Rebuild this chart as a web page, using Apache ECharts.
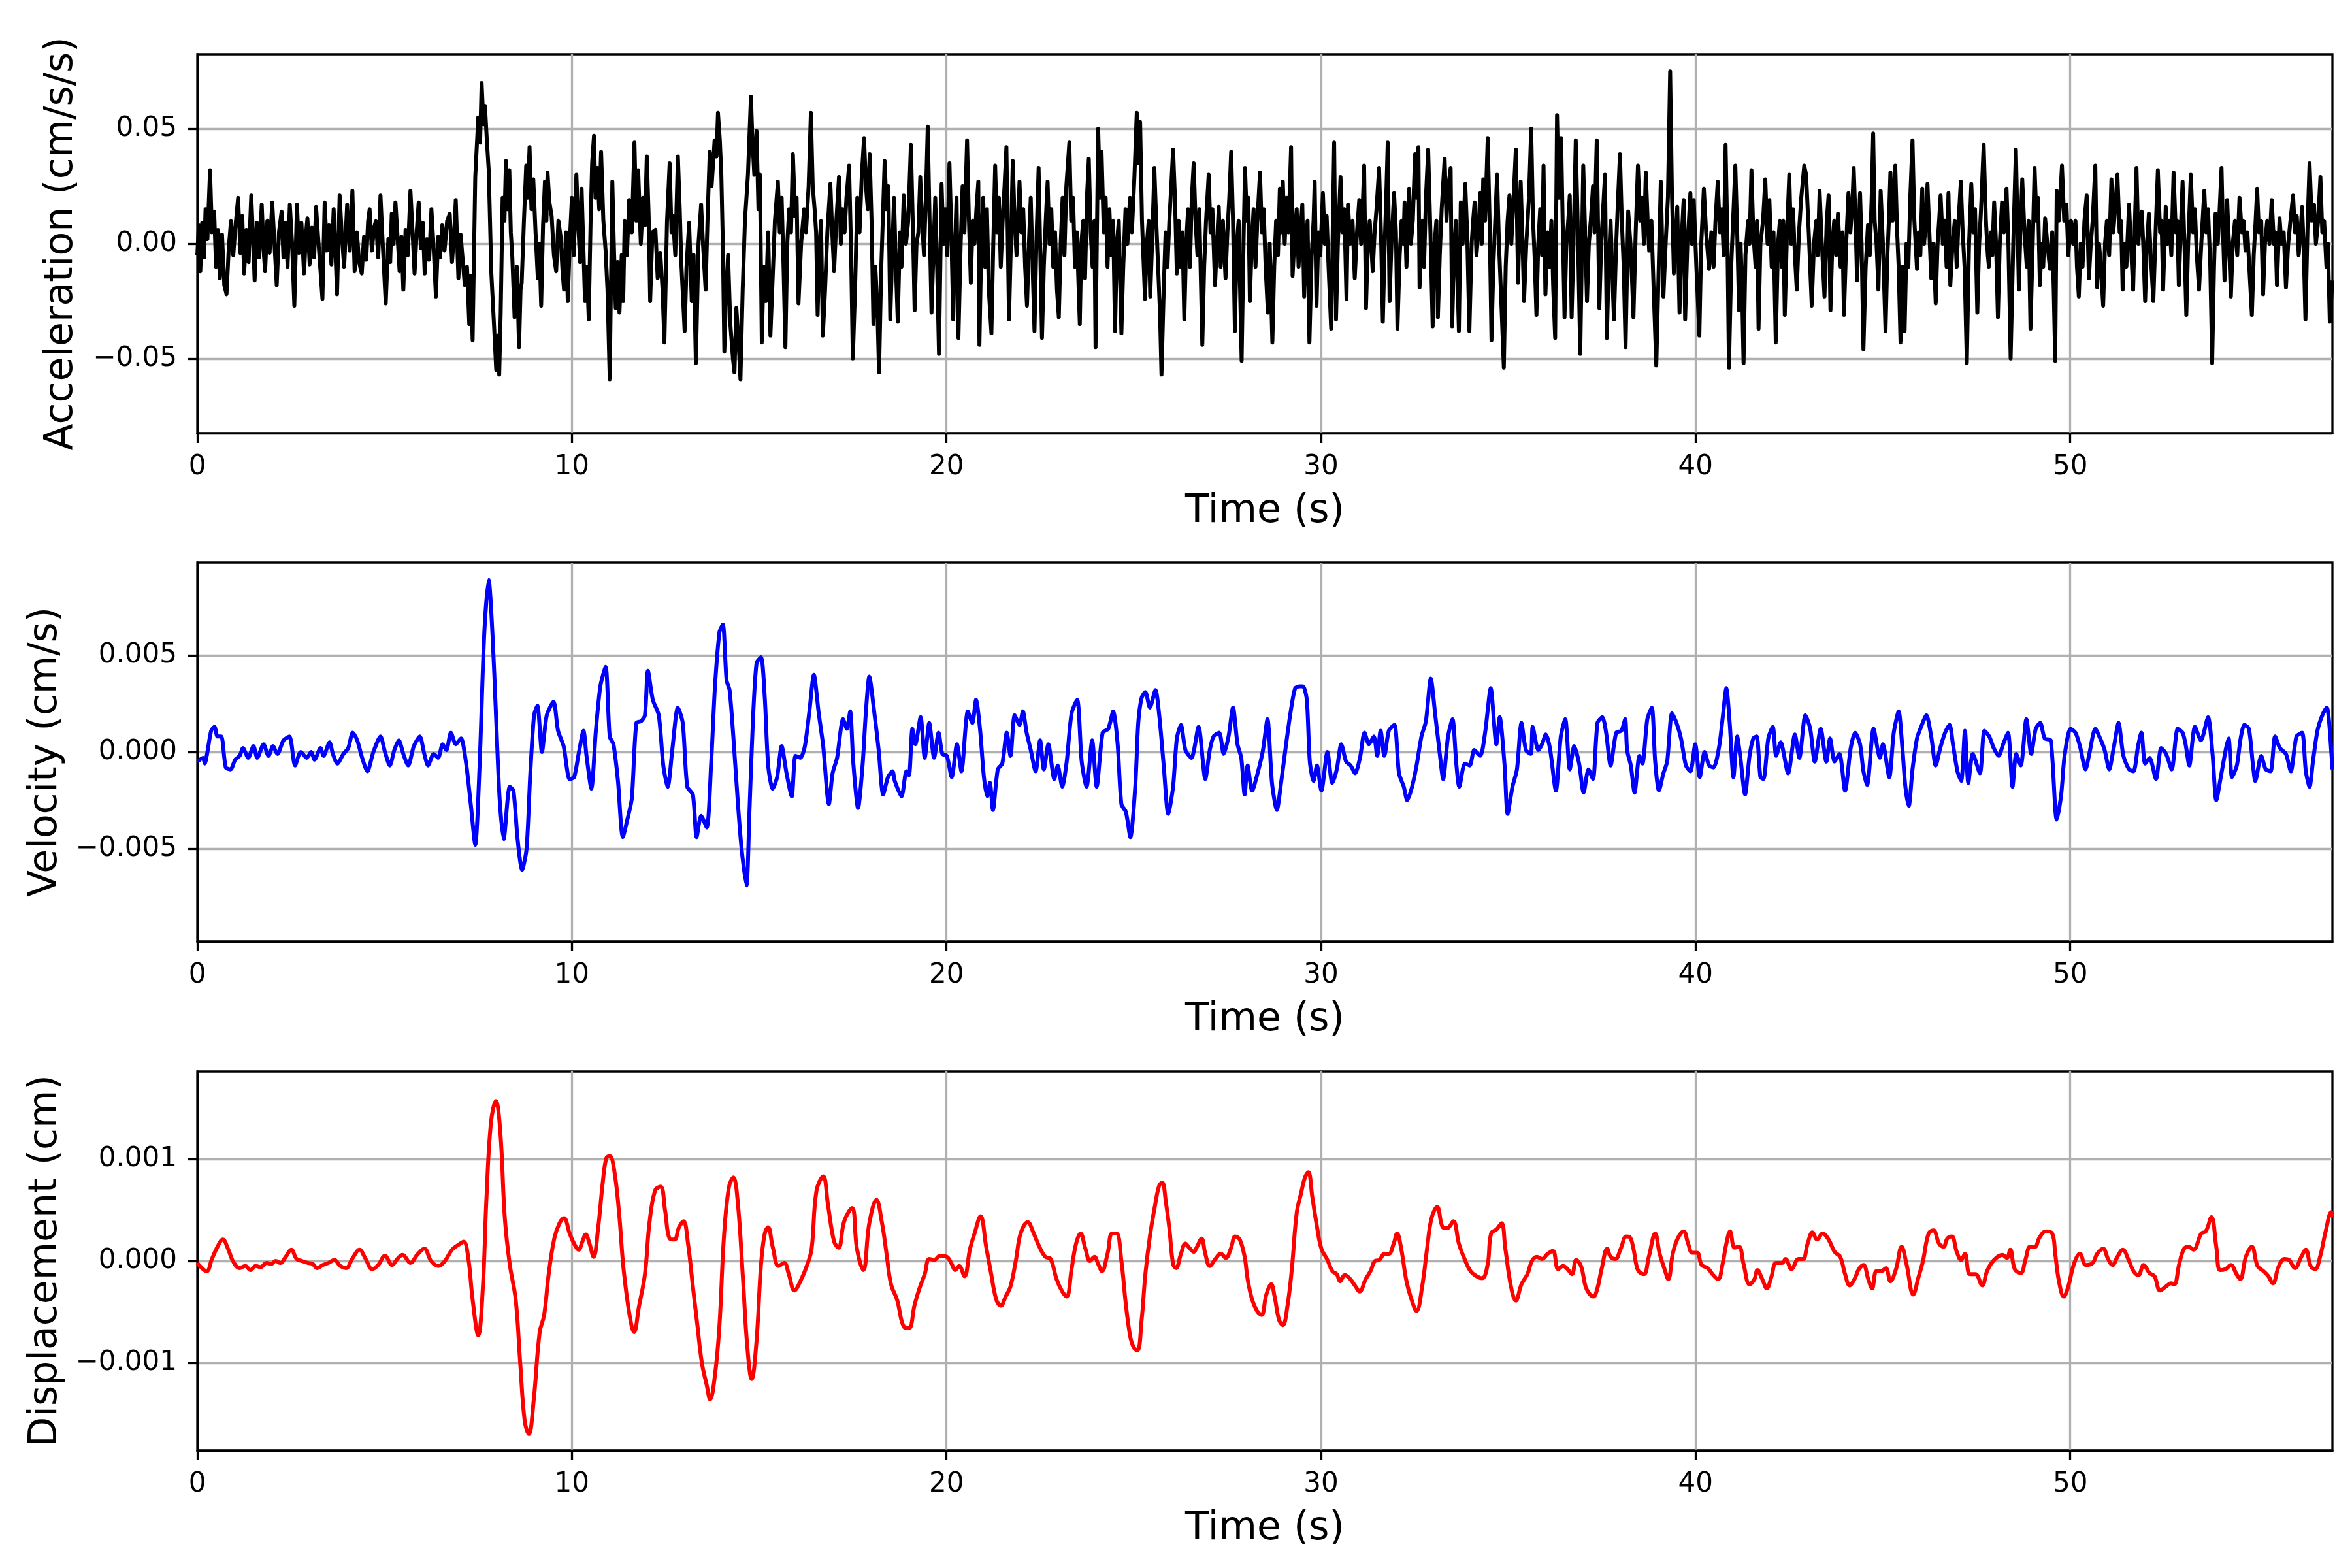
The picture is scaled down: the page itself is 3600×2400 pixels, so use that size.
<!DOCTYPE html>
<html>
<head>
<meta charset="utf-8">
<script src="https://cdn.jsdelivr.net/npm/echarts@6.0.0/dist/echarts.min.js"></script>
<style>
  html, body { margin: 0; padding: 0; background: #fff; }
  #canvas { width: 3600px; height: 2400px; }
</style>
</head>
<body>
<div id="canvas"></div>
<script>
// time axis (s)
const timeMax = 57;
const timeTicks = [0, 10, 20, 30, 40, 50];

// acceleration samples [time s, value in 1e-3 cm/s/s]
const accUnit = 1e-3;
const accLimit = 0.0825;
const accTicks = [-0.05, 0, 0.05];
const accSamples = [
[0.00,-5],[0.04,8],[0.08,-12],[0.13,9],[0.18,-6],[0.22,15],[0.27,2],[0.34,32],[0.39,5],[0.45,14],[0.5,-10],[0.55,6],[0.6,-15],[0.66,4],[0.72,-18],[0.78,-22],[0.84,-2],[0.9,10],[0.96,-5],
[1.02,8],[1.09,20],[1.15,-4],[1.2,12],[1.25,-13],[1.31,6],[1.37,-8],[1.44,21],[1.49,2],[1.53,-16],[1.59,9],[1.65,-6],[1.72,17],[1.77,-3],[1.81,-12],[1.87,10],[1.93,-4],
[2.0,18],[2.06,0],[2.12,-18],[2.18,5],[2.25,14],[2.3,-6],[2.36,9],[2.41,-10],[2.47,17],[2.53,0],[2.59,-27],[2.66,17],[2.72,-4],[2.78,9],[2.85,-13],[2.9,4],[2.94,11],
[3.0,-9],[3.06,7],[3.12,-6],[3.17,16],[3.22,4],[3.28,-10],[3.34,-24],[3.4,18],[3.46,-3],[3.52,8],[3.58,-9],[3.64,15],[3.69,-4],[3.73,-22],[3.8,21],[3.86,3],[3.92,-10],
[4.0,17],[4.07,-3],[4.14,23],[4.2,-12],[4.26,5],[4.32,-8],[4.39,-13],[4.45,3],[4.51,-7],[4.56,10],[4.6,15],[4.66,-3],[4.72,7],[4.77,10],[4.83,-6],[4.89,21],[4.95,0],
[5.03,-26],[5.1,2],[5.15,-8],[5.19,13],[5.24,0],[5.29,18],[5.35,2],[5.4,-12],[5.45,3],[5.5,-20],[5.56,6],[5.62,-5],[5.69,23],[5.75,4],[5.8,-13],[5.86,6],[5.91,18],[5.97,-2],
[6.02,9],[6.07,-13],[6.13,2],[6.19,-7],[6.25,15],[6.31,-2],[6.37,-23],[6.43,3],[6.48,-6],[6.54,8],[6.6,-3],[6.67,10],[6.74,13],[6.8,-8],[6.86,5],[6.9,19],[6.97,-15],
[7.03,4],[7.08,-6],[7.14,-18],[7.2,-10],[7.26,-35],[7.3,-14],[7.35,-42],[7.42,29],[7.5,55],[7.55,44],[7.59,70],[7.64,52],[7.68,60],[7.73,45],[7.78,32],[7.85,-13],[7.92,-35],[7.98,-55],
[8.03,-40],[8.06,-57],[8.1,-30],[8.15,20],[8.2,10],[8.24,36],[8.29,15],[8.33,32],[8.37,5],[8.41,-6],[8.47,-32],[8.53,-10],[8.59,-45],[8.63,-20],[8.66,-17],[8.72,10],[8.78,34],[8.82,20],[8.87,42],[8.92,15],[8.97,28],
[9.03,5],[9.09,-15],[9.13,0],[9.18,-27],[9.23,8],[9.28,27],[9.32,10],[9.35,31],[9.4,18],[9.46,12],[9.52,-5],[9.58,-12],[9.64,10],[9.7,3],[9.75,-12],[9.79,-20],[9.84,5],[9.89,-25],[9.95,3],
[10.0,20],[10.05,-5],[10.12,30],[10.18,5],[10.22,-8],[10.26,24],[10.3,2],[10.35,-25],[10.4,-10],[10.45,-33],[10.5,10],[10.54,35],[10.59,47],[10.63,20],[10.68,33],[10.73,15],[10.78,40],[10.84,10],[10.9,-3],[10.95,-20],
[11.01,-59],[11.08,27],[11.12,0],[11.17,-28],[11.22,-8],[11.27,-30],[11.33,-5],[11.37,-25],[11.41,10],[11.47,-5],[11.53,19],[11.6,5],[11.67,44],[11.72,10],[11.77,32],[11.84,0],[11.9,20],[11.95,8],
[12.0,38],[12.05,12],[12.09,-25],[12.15,5],[12.23,6],[12.29,-15],[12.36,-4],[12.42,-20],[12.47,-43],[12.54,10],[12.61,35],[12.66,5],[12.7,12],[12.76,-5],[12.83,38],[12.88,15],[12.92,-8],
[13.01,-38],[13.06,-10],[13.13,9],[13.2,-25],[13.25,-5],[13.31,-52],[13.38,0],[13.45,17],[13.5,0],[13.57,-20],[13.62,10],[13.68,40],[13.73,25],[13.81,45],[13.86,38],[13.9,57],[13.95,45],[13.99,30],
[14.03,0],[14.07,-47],[14.12,-20],[14.17,-5],[14.23,-35],[14.3,-50],[14.34,-56],[14.39,-28],[14.44,-40],[14.5,-59],[14.56,-20],[14.62,10],[14.7,30],[14.78,64],[14.82,45],[14.87,30],[14.93,49],[14.98,15],
[15.02,30],[15.07,-43],[15.12,-10],[15.18,-25],[15.24,5],[15.3,-40],[15.36,-15],[15.42,10],[15.5,27],[15.55,5],[15.6,20],[15.65,-10],[15.7,-45],[15.75,0],[15.8,15],[15.85,5],[15.9,39],[15.96,12],
[16.0,20],[16.05,-26],[16.12,0],[16.2,15],[16.25,5],[16.32,25],[16.38,57],[16.43,25],[16.48,15],[16.52,5],[16.56,-31],[16.6,-5],[16.65,10],[16.7,-40],[16.76,-20],[16.82,5],[16.9,26],[16.95,5],
[17.0,-12],[17.06,10],[17.13,29],[17.18,0],[17.23,15],[17.28,5],[17.33,20],[17.4,34],[17.45,0],[17.5,-50],[17.56,-20],[17.62,20],[17.68,5],[17.74,30],[17.8,46],[17.85,25],[17.9,15],[17.95,39],
[18.0,10],[18.05,-35],[18.1,-10],[18.15,-25],[18.2,-56],[18.26,-10],[18.3,10],[18.35,36],[18.4,15],[18.45,25],[18.5,-33],[18.55,-5],[18.6,20],[18.65,-10],[18.7,-34],[18.76,5],[18.8,-10],[18.86,21],[18.92,0],[18.98,10],
[19.05,43],[19.1,10],[19.15,-29],[19.2,0],[19.25,5],[19.3,29],[19.35,10],[19.4,-5],[19.45,20],[19.5,51],[19.55,10],[19.6,-30],[19.65,-5],[19.7,20],[19.75,-10],[19.8,-48],[19.87,26],[19.92,0],[19.97,15],
[20.02,-5],[20.08,35],[20.13,5],[20.18,-33],[20.23,0],[20.27,20],[20.32,-41],[20.38,0],[20.43,25],[20.48,5],[20.55,45],[20.6,10],[20.65,-17],[20.7,10],[20.75,0],[20.8,15],[20.85,27],[20.88,-44],[20.93,0],[20.98,20],
[21.03,-10],[21.08,15],[21.13,-20],[21.2,-39],[21.25,0],[21.3,34],[21.35,5],[21.4,20],[21.45,-10],[21.5,10],[21.55,25],[21.6,42],[21.67,-33],[21.72,0],[21.77,36],[21.82,10],[21.87,-5],[21.95,27],
[22.0,5],[22.05,15],[22.1,-10],[22.15,-27],[22.2,0],[22.25,20],[22.3,-10],[22.35,-38],[22.4,0],[22.46,33],[22.55,-41],[22.6,-10],[22.65,10],[22.7,27],[22.75,0],[22.8,15],[22.85,-10],[22.9,5],[22.95,-20],
[23.0,-32],[23.05,0],[23.1,20],[23.15,-5],[23.2,25],[23.28,44],[23.33,10],[23.38,20],[23.43,-10],[23.48,5],[23.56,-35],[23.6,0],[23.65,10],[23.7,-15],[23.75,20],[23.8,37],[23.85,5],[23.9,-10],[23.95,10],[23.98,-45],
[24.05,50],[24.1,20],[24.14,40],[24.2,5],[24.25,20],[24.3,-10],[24.35,15],[24.4,-5],[24.45,10],[24.5,-38],[24.55,0],[24.6,10],[24.67,-39],[24.72,-10],[24.78,15],[24.83,0],[24.9,20],[24.95,5],
[25.02,30],[25.08,57],[25.12,35],[25.17,53],[25.22,10],[25.3,-24],[25.35,0],[25.4,10],[25.44,-23],[25.5,5],[25.55,33],[25.6,10],[25.65,-10],[25.7,-30],[25.74,-57],[25.8,-20],[25.85,5],[25.9,-10],[25.95,10],
[26.0,25],[26.05,41],[26.1,20],[26.15,-13],[26.2,10],[26.25,-10],[26.3,5],[26.35,-33],[26.4,0],[26.45,15],[26.5,-10],[26.55,20],[26.6,35],[26.65,10],[26.7,-5],[26.75,15],[26.83,-44],[26.88,-10],[26.93,10],
[27.0,30],[27.05,5],[27.1,15],[27.17,-18],[27.22,0],[27.27,16],[27.32,-10],[27.38,10],[27.45,-15],[27.5,5],[27.55,20],[27.6,40],[27.65,10],[27.7,-38],[27.75,0],[27.8,10],[27.88,-51],[27.93,0],[27.97,33],
[28.02,10],[28.06,20],[28.1,-25],[28.15,0],[28.2,15],[28.25,-10],[28.3,10],[28.37,31],[28.42,5],[28.47,15],[28.52,-10],[28.58,-30],[28.63,0],[28.7,-43],[28.75,-10],[28.8,10],[28.85,-5],[28.9,24],[28.94,5],[28.98,27],
[29.03,0],[29.08,20],[29.13,5],[29.2,42],[29.24,-14],[29.3,5],[29.35,15],[29.4,-10],[29.45,5],[29.5,17],[29.55,-23],[29.6,0],[29.64,10],[29.69,-43],[29.75,-5],[29.8,10],[29.83,27],[29.88,-27],[29.93,5],[29.98,-5],
[30.05,22],[30.1,0],[30.15,12],[30.2,-10],[30.27,-37],[30.35,44],[30.4,-33],[30.45,0],[30.52,29],[30.57,5],[30.62,15],[30.68,-24],[30.72,17],[30.78,0],[30.84,10],[30.9,-15],[30.96,5],
[31.02,19],[31.07,0],[31.1,10],[31.15,34],[31.2,-28],[31.25,0],[31.3,10],[31.38,-12],[31.43,5],[31.48,15],[31.55,33],[31.6,5],[31.65,-34],[31.7,0],[31.74,20],[31.78,44],[31.83,-25],[31.88,0],[31.95,22],
[32.0,5],[32.04,-37],[32.1,-5],[32.15,10],[32.2,0],[32.23,18],[32.28,-10],[32.35,24],[32.4,0],[32.45,10],[32.51,39],[32.56,20],[32.6,42],[32.63,-19],[32.7,10],[32.75,-10],[32.8,20],[32.86,41],[32.92,5],[32.98,-36],
[33.03,0],[33.08,10],[33.12,-32],[33.17,-5],[33.22,15],[33.3,37],[33.35,10],[33.4,25],[33.46,33],[33.5,-36],[33.55,-5],[33.6,10],[33.65,-20],[33.68,-38],[33.73,18],[33.78,0],[33.85,26],[33.9,5],[33.96,-38],
[34.02,0],[34.06,10],[34.1,18],[34.15,-5],[34.2,5],[34.25,22],[34.29,0],[34.33,28],[34.38,10],[34.45,46],[34.5,10],[34.55,-42],[34.6,-10],[34.65,10],[34.7,30],[34.75,0],[34.8,-20],[34.88,-54],[34.93,-10],[34.98,10],
[35.03,21],[35.08,0],[35.14,20],[35.2,41],[35.26,-17],[35.33,27],[35.38,0],[35.42,-25],[35.48,0],[35.55,20],[35.61,50],[35.66,10],[35.7,-5],[35.75,-31],[35.8,0],[35.85,15],[35.9,-5],[35.94,34],[35.99,-22],
[36.05,5],[36.1,-10],[36.15,10],[36.2,-20],[36.25,-41],[36.3,56],[36.35,20],[36.41,46],[36.45,10],[36.5,-32],[36.55,0],[36.6,10],[36.64,21],[36.69,-32],[36.74,0],[36.8,45],[36.85,10],[36.92,-48],
[37.0,34],[37.05,5],[37.1,-25],[37.15,0],[37.2,10],[37.26,25],[37.3,5],[37.36,45],[37.43,-28],[37.48,0],[37.53,15],[37.58,30],[37.63,-41],[37.68,-10],[37.73,10],[37.78,-15],[37.82,-33],[37.88,0],[37.93,20],[37.98,39],
[38.03,10],[38.08,-10],[38.13,-45],[38.2,14],[38.26,0],[38.3,-15],[38.34,-32],[38.4,5],[38.46,34],[38.52,10],[38.57,20],[38.62,0],[38.67,31],[38.72,10],[38.76,-3],[38.82,10],[38.88,-20],[38.95,-53],
[39.0,-20],[39.07,27],[39.14,-23],[39.2,0],[39.26,20],[39.32,75],[39.37,20],[39.42,-13],[39.47,5],[39.51,16],[39.57,-30],[39.62,0],[39.68,19],[39.72,-33],[39.78,0],[39.82,10],[39.86,22],[39.9,0],[39.95,19],
[40.02,-10],[40.1,-40],[40.15,0],[40.22,24],[40.28,5],[40.36,-11],[40.42,5],[40.48,-10],[40.53,10],[40.59,27],[40.65,5],[40.7,15],[40.75,-5],[40.8,43],[40.85,0],[40.89,-54],[40.95,-10],
[41.0,10],[41.06,34],[41.11,5],[41.16,-29],[41.2,0],[41.24,-20],[41.28,-52],[41.33,-5],[41.4,10],[41.44,0],[41.49,32],[41.54,5],[41.6,-10],[41.64,10],[41.68,-37],[41.73,0],[41.8,10],[41.86,28],[41.92,0],[41.97,19],
[42.03,-10],[42.08,5],[42.14,-43],[42.2,0],[42.25,10],[42.3,-10],[42.34,10],[42.38,-31],[42.44,5],[42.5,30],[42.55,0],[42.6,15],[42.65,-5],[42.7,-20],[42.76,5],[42.82,20],[42.9,34],[42.95,30],
[43.02,5],[43.1,-27],[43.16,0],[43.22,10],[43.26,-5],[43.31,23],[43.37,0],[43.44,-23],[43.5,10],[43.55,21],[43.6,-29],[43.65,0],[43.7,10],[43.75,-5],[43.8,13],[43.87,-10],[43.92,5],[43.96,-31],
[44.02,0],[44.08,22],[44.13,5],[44.18,15],[44.22,33],[44.27,10],[44.31,-16],[44.35,5],[44.39,22],[44.43,0],[44.48,-46],[44.54,-10],[44.6,8],[44.65,-5],[44.7,20],[44.74,48],[44.78,10],[44.83,0],[44.88,-20],[44.94,23],
[45.0,0],[45.07,-38],[45.12,-5],[45.16,10],[45.2,31],[45.26,10],[45.33,34],[45.38,5],[45.42,-10],[45.47,-43],[45.52,-10],[45.58,-38],[45.63,0],[45.68,-10],[45.73,20],[45.79,45],[45.84,10],[45.91,-11],[45.96,5],
[46.0,-5],[46.05,24],[46.1,0],[46.15,10],[46.19,26],[46.24,5],[46.29,-15],[46.35,0],[46.41,-26],[46.46,0],[46.5,10],[46.54,21],[46.6,0],[46.65,10],[46.7,-10],[46.75,22],[46.8,-18],[46.86,0],[46.92,10],[46.97,-10],
[47.02,10],[47.08,27],[47.13,5],[47.18,-10],[47.24,-52],[47.3,0],[47.36,26],[47.41,5],[47.46,15],[47.52,-30],[47.57,0],[47.62,15],[47.69,43],[47.75,10],[47.8,-5],[47.83,-10],[47.88,5],[47.92,-5],[47.97,18],
[48.02,0],[48.07,-32],[48.12,0],[48.18,18],[48.23,5],[48.3,24],[48.35,0],[48.41,-50],[48.48,0],[48.55,41],[48.59,10],[48.63,-20],[48.67,5],[48.72,28],[48.78,5],[48.84,-10],[48.89,10],[48.94,-37],
[49.0,0],[49.05,33],[49.1,10],[49.14,20],[49.19,-18],[49.24,0],[49.28,-10],[49.33,11],[49.39,0],[49.46,-11],[49.52,5],[49.56,-20],[49.6,-51],[49.64,23],[49.7,10],[49.78,34],[49.84,10],[49.9,17],[49.95,-5],
[50.02,10],[50.08,0],[50.14,10],[50.18,-10],[50.23,-23],[50.28,0],[50.33,-10],[50.38,10],[50.44,21],[50.5,-15],[50.55,0],[50.6,10],[50.67,34],[50.72,-19],[50.77,0],[50.82,-10],[50.88,-27],[50.93,0],[50.98,10],
[51.04,-5],[51.1,28],[51.15,5],[51.2,15],[51.26,30],[51.32,5],[51.36,10],[51.4,-20],[51.45,0],[51.5,-10],[51.57,17],[51.62,0],[51.68,-20],[51.72,5],[51.77,33],[51.82,0],[51.86,10],[51.91,14],[51.95,0],
[52.0,-25],[52.05,0],[52.1,13],[52.15,-5],[52.22,-25],[52.28,5],[52.34,32],[52.4,5],[52.44,10],[52.48,-20],[52.52,0],[52.55,16],[52.6,0],[52.65,10],[52.7,-5],[52.76,31],[52.82,5],[52.86,10],[52.9,-18],[52.95,5],
[53.0,27],[53.05,0],[53.1,-31],[53.15,0],[53.22,30],[53.28,5],[53.33,15],[53.38,-5],[53.44,-20],[53.5,0],[53.58,23],[53.63,5],[53.68,15],[53.74,-10],[53.79,-52],[53.84,-10],[53.88,13],[53.94,0],[53.99,15],
[54.04,33],[54.08,5],[54.12,-16],[54.16,0],[54.19,19],[54.24,0],[54.29,-23],[54.34,0],[54.4,10],[54.46,-5],[54.52,20],[54.58,5],[54.63,10],[54.68,-3],[54.73,5],[54.78,-10],[54.85,-31],[54.9,-5],[54.95,10],[54.99,24],
[55.04,5],[55.1,10],[55.15,-22],[55.2,0],[55.26,10],[55.32,0],[55.38,19],[55.44,0],[55.48,5],[55.52,-18],[55.56,0],[55.59,11],[55.64,0],[55.7,5],[55.76,-19],[55.82,0],[55.88,10],[55.95,21],
[56.0,5],[56.05,12],[56.1,-5],[56.15,5],[56.19,16],[56.23,0],[56.28,-33],[56.34,10],[56.39,35],[56.45,10],[56.51,17],[56.56,0],[56.62,10],[56.68,29],[56.73,5],[56.78,10],[56.84,-10],[56.88,0],[56.93,-34],[57.0,-16]
];

// velocity samples [time s, value in 1e-4 cm/s]
const velUnit = 1e-4;
const velLimit = 0.0098;
const velTicks = [-0.005, 0, 0.005];
const velSamples = [
[0.0,-5],[0.15,-3],[0.2,-6],[0.27,0],[0.37,11],[0.46,13],[0.54,8],[0.64,8],[0.76,-8],[0.89,-9],[1.01,-4],[1.13,-2],[1.22,2],[1.36,-3],[1.5,3],[1.6,-3],[1.77,4],[1.9,-2],
[2.02,3],[2.14,-1],[2.3,6],[2.46,8],[2.61,-7],[2.76,0],[2.92,-3],[3.04,0],[3.13,-4],[3.29,2],[3.37,-2],[3.53,5],[3.62,-1],[3.74,-6],[3.9,-1],[4.03,2],[4.15,10],[4.27,6],
[4.4,-3],[4.54,-10],[4.7,0],[4.89,8],[5.01,0],[5.14,-7],[5.26,1],[5.38,6],[5.5,-1],[5.63,-7],[5.78,3],[5.94,8],[6.06,-1],[6.16,-7],[6.31,-1],[6.43,-3],[6.55,4],[6.65,1],
[6.77,10],[6.9,4],[7.04,7],[7.17,-5],[7.3,-27],[7.42,-48],[7.54,-5],[7.66,61],[7.78,89],[7.88,61],[7.97,21],[8.07,-24],[8.18,-45],[8.34,-18],[8.44,-20],[8.55,-45],
[8.67,-61],[8.79,-50],[8.89,-11],[8.99,19],[9.08,24],[9.2,0],[9.33,19],[9.51,26],[9.63,11],[9.78,3],[9.94,-14],[10.06,-13],[10.18,-1],[10.31,11],[10.39,-2],[10.52,-19],
[10.64,11],[10.76,34],[10.9,44],[11.01,8],[11.11,4],[11.23,-15],[11.36,-44],[11.48,-35],[11.6,-24],[11.72,15],[11.85,16],[11.95,19],[12.03,42],[12.16,27],[12.32,19],
[12.44,-7],[12.56,-18],[12.68,1],[12.83,23],[12.96,15],[13.08,-18],[13.23,-22],[13.33,-44],[13.45,-33],[13.6,-39],[13.72,-5],[13.82,34],[13.94,62],[14.03,66],[14.13,37],
[14.21,32],[14.31,8],[14.43,-26],[14.53,-50],[14.66,-69],[14.74,-31],[14.83,15],[14.93,46],[15.05,49],[15.15,28],[15.24,-7],[15.36,-19],[15.48,-13],[15.6,3],[15.73,-11],
[15.87,-23],[15.97,-2],[16.1,-3],[16.22,3],[16.34,21],[16.46,40],[16.59,20],[16.71,3],[16.86,-27],[16.96,-11],[17.08,-3],[17.24,17],[17.34,12],[17.43,21],[17.51,-5],
[17.64,-29],[17.76,-7],[17.85,21],[17.94,39],[18.07,21],[18.19,1],[18.31,-22],[18.44,-13],[18.56,-10],[18.62,-15],[18.8,-23],[18.93,-10],[19.0,-12],[19.09,12],[19.17,4],
[19.31,18],[19.42,-3],[19.54,15],[19.67,-3],[19.79,10],[19.89,-1],[20.01,-2],[20.14,-13],[20.28,4],[20.4,-10],[20.57,21],[20.69,15],[20.79,27],[20.9,11],[21.0,-13],
[21.09,-23],[21.16,-16],[21.24,-30],[21.37,-9],[21.49,-6],[21.61,10],[21.71,-2],[21.82,19],[21.95,14],[22.04,21],[22.14,10],[22.25,1],[22.38,-10],[22.5,6],[22.6,-9],
[22.72,4],[22.88,-14],[22.97,-7],[23.09,-18],[23.21,-5],[23.34,20],[23.49,27],[23.61,-5],[23.74,-18],[23.89,6],[24.01,-18],[24.17,10],[24.32,12],[24.45,21],[24.57,4],
[24.67,-27],[24.79,-31],[24.91,-44],[25.04,-18],[25.12,15],[25.21,28],[25.31,31],[25.43,23],[25.58,32],[25.68,19],[25.8,-7],[25.92,-32],[26.05,-18],[26.15,7],[26.26,14],
[26.38,1],[26.54,-3],[26.73,13],[26.91,-14],[27.03,1],[27.13,8],[27.28,10],[27.4,-1],[27.53,8],[27.65,23],[27.77,4],[27.87,-3],[27.96,-22],[28.04,-7],[28.16,-20],
[28.32,-10],[28.45,1],[28.57,17],[28.69,-16],[28.82,-30],[28.94,-15],[29.06,3],[29.19,21],[29.31,33],[29.43,34],[29.52,34],[29.62,27],[29.7,-5],[29.8,-15],[29.89,-7],
[30.01,-20],[30.17,0],[30.3,-16],[30.42,-9],[30.54,4],[30.67,-5],[30.79,-7],[30.91,-11],[31.04,-3],[31.16,10],[31.28,4],[31.41,8],[31.5,-2],[31.59,11],[31.69,-2],
[31.81,11],[31.96,14],[32.08,-11],[32.21,-18],[32.3,-25],[32.43,-18],[32.55,-7],[32.68,8],[32.8,16],[32.93,38],[33.05,19],[33.17,-1],[33.26,-14],[33.39,8],[33.51,17],
[33.61,-6],[33.69,-18],[33.84,-6],[33.97,-7],[34.09,1],[34.25,-2],[34.38,10],[34.53,33],[34.68,4],[34.77,18],[34.9,-7],[34.98,-32],[35.11,-18],[35.23,-9],[35.35,15],
[35.47,1],[35.6,-1],[35.65,13],[35.8,1],[35.9,4],[36.0,9],[36.11,2],[36.27,-20],[36.4,8],[36.52,17],[36.64,-9],[36.76,3],[36.89,-6],[37.01,-21],[37.14,-9],[37.26,-14],
[37.38,15],[37.51,18],[37.61,10],[37.73,-7],[37.88,10],[38.02,11],[38.12,17],[38.17,1],[38.27,-7],[38.37,-21],[38.5,-2],[38.58,-6],[38.71,17],[38.83,23],[38.92,-5],
[39.02,-20],[39.14,-11],[39.24,-5],[39.37,20],[39.49,15],[39.61,7],[39.74,-7],[39.86,-10],[39.99,4],[40.11,-13],[40.24,0],[40.36,-7],[40.48,-8],[40.63,3],[40.73,19],
[40.82,33],[40.91,15],[41.01,-13],[41.11,8],[41.19,-2],[41.32,-22],[41.44,-2],[41.54,7],[41.63,8],[41.73,-13],[41.81,-14],[41.94,7],[42.06,13],[42.15,-2],[42.27,5],
[42.47,-11],[42.65,9],[42.77,-3],[42.93,19],[43.06,12],[43.18,-5],[43.34,12],[43.49,-5],[43.59,7],[43.71,-5],[43.84,-1],[43.99,-20],[44.14,2],[44.26,10],[44.39,4],
[44.48,-10],[44.58,-17],[44.75,12],[44.92,-3],[45.0,4],[45.17,-13],[45.29,10],[45.42,21],[45.52,2],[45.6,-18],[45.69,-28],[45.79,-9],[45.91,7],[46.04,14],[46.16,19],
[46.29,8],[46.41,-7],[46.53,2],[46.66,10],[46.78,14],[46.87,4],[46.99,-10],[47.09,-15],[47.19,11],[47.28,-16],[47.4,-1],[47.59,-11],[47.71,11],[47.84,8],[47.96,2],
[48.09,-2],[48.21,4],[48.34,10],[48.46,-18],[48.56,-1],[48.68,-7],[48.83,17],[48.96,-1],[49.08,12],[49.2,15],[49.32,7],[49.48,6],[49.64,-35],[49.76,-22],[49.85,-2],
[50.01,12],[50.14,10],[50.26,3],[50.41,-9],[50.51,-1],[50.67,12],[50.8,7],[50.92,1],[51.04,-9],[51.17,3],[51.29,15],[51.42,-2],[51.57,-9],[51.69,-10],[51.81,3],
[51.9,10],[52.0,-6],[52.12,-3],[52.29,-14],[52.43,2],[52.56,-1],[52.71,-9],[52.87,12],[53.0,10],[53.08,4],[53.18,-7],[53.33,13],[53.49,6],[53.68,18],[53.8,-1],
[53.9,-25],[54.02,-13],[54.15,1],[54.23,7],[54.32,-13],[54.45,-7],[54.55,7],[54.65,14],[54.77,12],[54.88,-7],[54.94,-15],[55.1,-2],[55.22,-9],[55.35,-10],[55.47,8],
[55.6,2],[55.76,-1],[55.89,-10],[56.04,8],[56.19,10],[56.29,-10],[56.39,-18],[56.48,-5],[56.6,11],[56.73,19],[56.85,23],[56.91,16],[57.0,-9]
];

// displacement samples [time s, value in 1e-5 cm]
const dispUnit = 1e-5;
const dispLimit = 0.00186;
const dispTicks = [-0.001, 0, 0.001];
const dispSamples = [
[0,-2],[0.25,-10],[0.39,2],[0.54,14],[0.68,21],[0.83,11],[0.95,0],[1.13,-7],[1.28,-5],[1.42,-9],[1.56,-5],[1.69,-6],[1.85,-2],[1.97,-3],[2.09,0],[2.22,-2],[2.36,4],
[2.51,11],[2.65,2],[2.79,0],[2.96,-2],[3.08,-3],[3.2,-7],[3.35,-4],[3.5,-2],[3.66,1],[3.82,-5],[3.97,-7],[4.15,3],[4.33,11],[4.48,3],[4.67,-8],[4.83,-4],[5.01,5],
[5.2,-4],[5.34,2],[5.48,6],[5.69,-2],[5.87,6],[6.06,12],[6.24,0],[6.43,-5],[6.61,0],[6.8,11],[6.98,16],[7.11,19],[7.23,4],[7.35,-38],[7.5,-73],[7.62,-28],[7.72,62],
[7.84,136],[7.97,157],[8.09,126],[8.21,42],[8.34,-3],[8.5,-38],[8.62,-100],[8.74,-157],[8.85,-170],[8.98,-137],[9.14,-70],[9.26,-53],[9.38,-13],[9.53,22],[9.67,37],
[9.79,42],[9.94,27],[10.06,17],[10.18,11],[10.28,19],[10.37,26],[10.47,17],[10.58,4],[10.7,32],[10.83,79],[10.92,101],[11.01,103],[11.13,89],[11.26,47],[11.38,-8],
[11.54,-53],[11.66,-70],[11.79,-45],[11.95,-13],[12.07,37],[12.22,69],[12.37,73],[12.49,49],[12.61,22],[12.74,21],[12.86,33],[12.98,39],[13.1,17],[13.23,-25],[13.35,-63],
[13.47,-100],[13.6,-122],[13.69,-136],[13.82,-112],[13.94,-63],[14.06,24],[14.19,72],[14.31,82],[14.43,57],[14.56,-13],[14.68,-83],[14.8,-116],[14.93,-78],[15.05,-3],
[15.15,27],[15.24,33],[15.36,14],[15.52,-5],[15.67,-2],[15.79,-13],[15.94,-29],[16.1,-20],[16.28,-4],[16.4,12],[16.53,69],[16.71,83],[16.84,54],[17.0,19],[17.12,13],
[17.27,39],[17.48,52],[17.61,12],[17.78,-9],[17.94,37],[18.13,60],[18.28,37],[18.4,7],[18.52,-23],[18.68,-38],[18.87,-65],[19.0,-66],[19.15,-43],[19.27,-28],[19.42,-13],
[19.54,2],[19.67,1],[19.83,5],[20.01,4],[20.14,-3],[20.23,-9],[20.34,-5],[20.48,-15],[20.63,12],[20.75,27],[20.91,44],[21.06,14],[21.18,-10],[21.33,-38],[21.45,-44],
[21.58,-35],[21.71,-25],[21.86,2],[21.98,27],[22.17,38],[22.33,27],[22.48,14],[22.64,4],[22.78,2],[22.94,-18],[23.09,-30],[23.21,-35],[23.34,-8],[23.46,17],[23.58,27],
[23.71,12],[23.83,0],[23.95,4],[24.05,-3],[24.15,-10],[24.3,7],[24.42,27],[24.54,27],[24.67,0],[24.79,-43],[24.91,-75],[25.0,-85],[25.1,-88],[25.21,-58],[25.31,-13],
[25.43,24],[25.58,57],[25.68,74],[25.76,77],[25.86,57],[25.95,32],[26.05,-3],[26.13,-7],[26.26,7],[26.38,17],[26.48,13],[26.6,9],[26.69,14],[26.81,22],[26.91,7],
[27.03,-5],[27.18,2],[27.32,7],[27.46,3],[27.59,12],[27.71,24],[27.83,21],[27.96,4],[28.04,-18],[28.16,-38],[28.29,-49],[28.41,-53],[28.54,-33],[28.67,-23],[28.76,-35],
[28.88,-58],[28.98,-63],[29.1,-45],[29.22,-8],[29.35,47],[29.47,67],[29.57,82],[29.66,87],[29.77,62],[29.89,34],[30.01,12],[30.17,1],[30.3,-10],[30.42,-13],[30.51,-20],
[30.63,-14],[30.76,-17],[30.92,-25],[31.03,-30],[31.19,-18],[31.32,-10],[31.44,0],[31.56,1],[31.69,7],[31.81,7],[31.94,17],[32.03,27],[32.14,12],[32.27,-18],[32.39,-35],
[32.55,-49],[32.7,-25],[32.83,12],[32.95,42],[33.1,53],[33.25,33],[33.37,32],[33.53,39],[33.68,17],[33.83,2],[33.99,-10],[34.15,-15],[34.3,-17],[34.45,-3],[34.54,27],
[34.69,31],[34.82,37],[34.92,12],[35.07,-25],[35.2,-39],[35.35,-23],[35.51,-13],[35.63,0],[35.76,4],[35.9,2],[36.05,7],[36.19,10],[36.33,-8],[36.46,-5],[36.58,-8],
[36.7,-13],[36.81,1],[36.94,-5],[37.06,-25],[37.16,-32],[37.27,-35],[37.37,-28],[37.49,-8],[37.64,12],[37.73,4],[37.86,2],[38.0,12],[38.15,24],[38.25,23],[38.34,12],
[38.46,-9],[38.62,-13],[38.75,4],[38.92,27],[39.04,7],[39.17,-8],[39.27,-18],[39.39,7],[39.52,22],[39.68,29],[39.8,17],[39.91,8],[40.04,8],[40.16,-4],[40.32,-7],
[40.45,-13],[40.6,-18],[40.72,-3],[40.82,17],[40.92,29],[41.04,13],[41.16,14],[41.28,-3],[41.44,-23],[41.57,-18],[41.65,-9],[41.78,-18],[41.9,-27],[42.02,-16],[42.15,-2],
[42.31,-2],[42.4,2],[42.56,-8],[42.75,2],[42.87,2],[42.99,17],[43.12,28],[43.24,21],[43.39,27],[43.55,21],[43.71,9],[43.86,4],[43.99,-13],[44.11,-24],[44.24,-18],
[44.36,-8],[44.48,-4],[44.61,-18],[44.71,-27],[44.83,-10],[44.96,-10],[45.08,-7],[45.2,-20],[45.35,-8],[45.5,14],[45.63,-3],[45.81,-33],[45.95,-16],[46.07,0],[46.22,27],
[46.35,30],[46.5,17],[46.62,14],[46.72,22],[46.84,24],[46.97,9],[47.09,1],[47.19,7],[47.32,-13],[47.47,-13],[47.65,-24],[47.78,-10],[47.9,-2],[48.06,4],[48.19,6],
[48.31,3],[48.4,11],[48.52,-8],[48.68,-12],[48.81,2],[48.93,14],[49.06,14],[49.18,23],[49.35,29],[49.52,27],[49.6,7],[49.7,-20],[49.83,-35],[49.95,-25],[50.1,-3],
[50.26,7],[50.42,-4],[50.6,-2],[50.72,7],[50.88,12],[51.01,2],[51.13,-4],[51.26,4],[51.4,11],[51.57,0],[51.69,-10],[51.82,-14],[51.96,-4],[52.12,-12],[52.25,-15],
[52.4,-29],[52.56,-25],[52.69,-22],[52.78,-23],[52.91,-3],[53.04,12],[53.16,14],[53.29,11],[53.5,27],[53.62,29],[53.77,43],[53.9,14],[54.0,-9],[54.15,-8],[54.29,-4],
[54.44,-13],[54.54,-18],[54.69,4],[54.85,14],[55.0,-5],[55.16,-10],[55.29,-15],[55.41,-22],[55.57,-5],[55.72,2],[55.84,1],[56.0,-7],[56.17,4],[56.29,11],[56.42,-5],
[56.54,-8],[56.67,4],[56.82,29],[56.97,48],[57.0,43]
];

var dom = document.getElementById("canvas");
var myChart = echarts.init(dom, null, { renderer: 'canvas' });

const font = 'DejaVu Sans';
const tickFont = 42;
const nameFont = 60;
const spine = 3.3;

// one panel = one grid; tops of the three axes boxes
const panels = [
    { top: 83, name: 'Acceleration (cm/s/s)', samples: accSamples, unit: accUnit, limit: accLimit, ticks: accTicks, digits: 2, color: '#000000', gap: 178, smooth: false },
    { top: 861, name: 'Velocity (cm/s)', samples: velSamples, unit: velUnit, limit: velLimit, ticks: velTicks, digits: 3, color: '#0000ff', gap: 202, smooth: 0.25 },
    { top: 1640, name: 'Displacement (cm)', samples: dispSamples, unit: dispUnit, limit: dispLimit, ticks: dispTicks, digits: 3, color: '#ff0000', gap: 202, smooth: 0.4 }
];

function onTick(v, ticks) {
    return ticks.some(t => Math.abs(t - v) < 1e-9);
}

option = null;
option = {
    backgroundColor: '#ffffff',
    animation: false,
    grid: panels.map(p => ({
        left: 302, width: 3268, top: p.top, height: 580,
        show: true, borderColor: '#000', borderWidth: spine, backgroundColor: 'transparent'
    })),
    xAxis: panels.map((p, i) => ({
        type: 'value', gridIndex: i, min: 0, max: timeMax, interval: 10,
        name: 'Time (s)', nameLocation: 'middle', nameGap: 90,
        nameTextStyle: { fontFamily: font, fontSize: nameFont, color: '#000' },
        axisLine: { show: true, onZero: false, lineStyle: { color: '#000', width: spine } },
        axisTick: { show: true, inside: false, length: 15, lineStyle: { color: '#000', width: spine }, customValues: timeTicks },
        axisLabel: {
            show: true, margin: 31, fontFamily: font, fontSize: tickFont, color: '#000',
            customValues: timeTicks,
            formatter: v => onTick(v, timeTicks) ? String(v) : ''
        },
        splitLine: { show: true, lineStyle: { color: '#b0b0b0', width: spine } }
    })),
    yAxis: panels.map((p, i) => ({
        type: 'value', gridIndex: i, min: -p.limit, max: p.limit, splitNumber: 3,
        name: p.name, nameLocation: 'middle', nameRotate: 90, nameGap: p.gap,
        nameTextStyle: { fontFamily: font, fontSize: nameFont, color: '#000' },
        axisLine: { show: true, onZero: false, lineStyle: { color: '#000', width: spine } },
        axisTick: { show: true, inside: false, length: 15, lineStyle: { color: '#000', width: spine }, customValues: p.ticks },
        axisLabel: {
            show: true, margin: 31, fontFamily: font, fontSize: tickFont, color: '#000',
            customValues: p.ticks,
            formatter: v => onTick(v, p.ticks) ? (v < 0 ? '\u2212' : '') + Math.abs(v).toFixed(p.digits) : ''
        },
        splitLine: { show: true, lineStyle: { color: '#b0b0b0', width: spine } }
    })),
    series: panels.map((p, i) => ({
        type: 'line', xAxisIndex: i, yAxisIndex: i,
        data: p.samples.map(s => [s[0], s[1] * p.unit]),
        showSymbol: false, symbol: 'none', smooth: p.smooth, sampling: null,
        lineStyle: { color: p.color, width: 6, join: 'round' },
        z: 3
    }))
};
;
if (option && typeof option === "object") {
    myChart.setOption(option, true);
}
</script>
</body>
</html>
